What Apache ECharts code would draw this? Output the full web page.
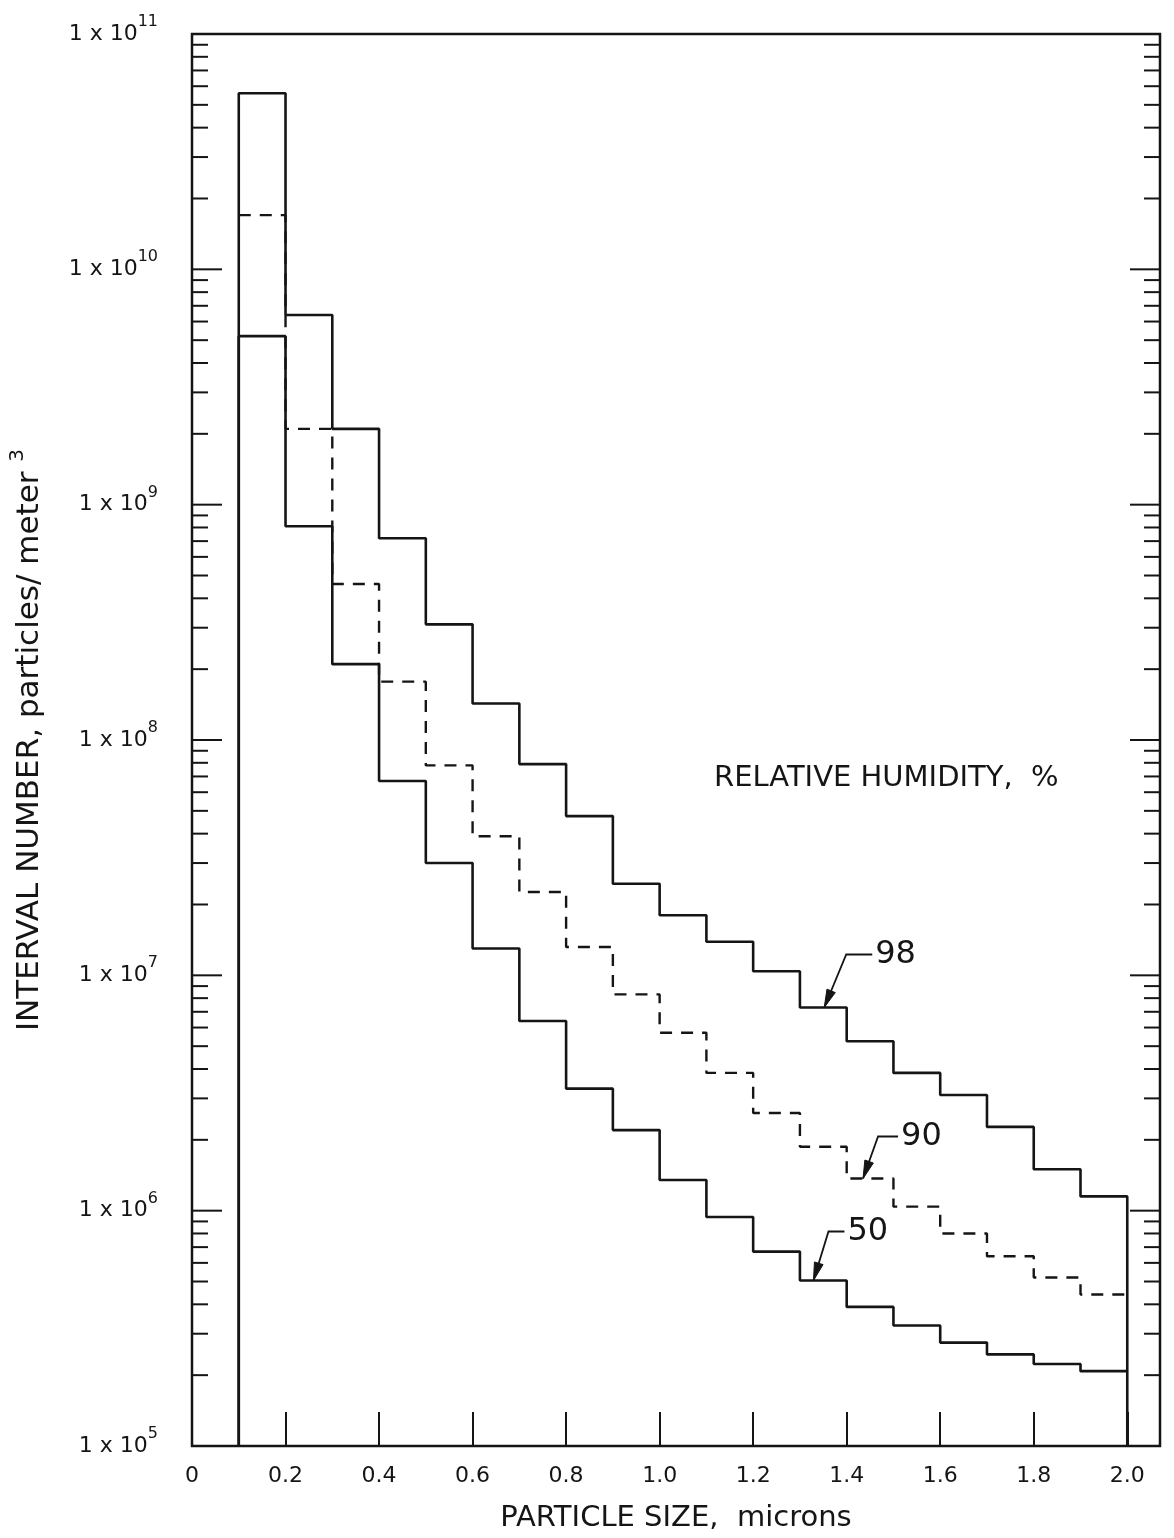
<!DOCTYPE html>
<html>
<head>
<meta charset="utf-8">
<title>Interval number vs particle size</title>
<script src="https://cdn.jsdelivr.net/npm/echarts@6.0.0/dist/echarts.min.js"></script>
<style>
  html, body { margin: 0; padding: 0; background: #fff; }
  #chart { width: 1174px; height: 1538px; }
</style>
</head>
<body>
<div id="chart"></div>
<script>
// bin edges in microns, every bin is 0.1 wide
var binEdges = [0.1, 0.2, 0.3, 0.4, 0.5, 0.6, 0.7, 0.8, 0.9, 1.0,
                1.1, 1.2, 1.3, 1.4, 1.5, 1.6, 1.7, 1.8, 1.9, 2.0];

// interval number, particles/m3, one value per bin
var rh98 = [5.6e10, 6.4e9, 2.1e9, 7.2e8, 3.1e8, 1.43e8, 7.9e7, 4.75e7, 2.45e7, 1.8e7,
            1.39e7, 1.04e7, 7.3e6, 5.25e6, 3.85e6, 3.1e6, 2.27e6, 1.5e6, 1.15e6];
var rh90 = [1.7e10, 2.1e9, 4.6e8, 1.77e8, 7.8e7, 3.9e7, 2.26e7, 1.32e7, 8.3e6, 5.7e6,
            3.85e6, 2.6e6, 1.87e6, 1.37e6, 1.04e6, 8.0e5, 6.4e5, 5.2e5, 4.4e5];
var rh50 = [5.2e9, 8.1e8, 2.1e8, 6.7e7, 3.0e7, 1.3e7, 6.4e6, 3.3e6, 2.2e6, 1.35e6,
            9.4e5, 6.7e5, 5.05e5, 3.9e5, 3.25e5, 2.75e5, 2.45e5, 2.23e5, 2.08e5];

var Y_MIN = 1e5, Y_MAX = 1e11;
var X_MIN = 0, X_MAX = 2.07;
var xTickStep = 0.2;

// log tick marks: 1..9 x 10^e, decades are long
var yTickMarks = [];
for (var e = 5; e < 11; e++) {
  for (var m = 1; m < 10; m++) {
    yTickMarks.push([0, m * Math.pow(10, e), m === 1 ? 1 : 0]);
  }
}
yTickMarks.push([0, Y_MAX, 1]);

var INK = '#151515';
var FONT = 'DejaVu Sans';

// histogram outline: a point at the left edge of each bin, plus the closing edge
function stepPoints(vals, dropLeft, dropRight) {
  var pts = [];
  if (dropLeft) pts.push([binEdges[0], Y_MIN]);
  for (var i = 0; i < vals.length; i++) pts.push([binEdges[i], vals[i]]);
  var last = binEdges[binEdges.length - 1];
  pts.push([last, vals[vals.length - 1]]);
  if (dropRight) pts.push([last, Y_MIN]);
  return pts;
}

var chart = echarts.init(document.getElementById('chart'));

var option = {
  animation: false,
  backgroundColor: '#fff',
  grid: {
    left: 186, right: 14, top: 34, bottom: 88,
    show: true, borderColor: INK, borderWidth: 2.5
  },
  xAxis: {
    type: 'value',
    min: X_MIN, max: X_MAX, interval: xTickStep,
    name: 'PARTICLE SIZE,  microns',
    nameLocation: 'middle', nameGap: 58,
    nameTextStyle: { fontFamily: FONT, fontSize: 29, color: INK },
    axisLine: { show: false },
    axisTick: { show: true, inside: true, length: 34, lineStyle: { color: INK, width: 2 } },
    axisLabel: {
      margin: 19, fontFamily: FONT, fontSize: 22, color: INK,
      showMaxLabel: false,
      formatter: function (v) { return v === 0 ? '0' : v.toFixed(1); }
    },
    splitLine: { show: false }
  },
  yAxis: {
    type: 'log', logBase: 10,
    min: Y_MIN, max: Y_MAX, splitNumber: 6,
    name: '{n|INTERVAL NUMBER, particles/ meter }{s|3}',
    nameLocation: 'middle', nameGap: 140,
    nameTextStyle: {
      rich: {
        n: { fontFamily: FONT, fontSize: 31, color: INK, lineHeight: 44, verticalAlign: 'middle' },
        s: { fontFamily: FONT, fontSize: 20, color: INK, lineHeight: 20, verticalAlign: 'top' }
      }
    },
    axisLine: { show: false },
    axisTick: { show: false },
    axisLabel: {
      margin: 34,
      formatter: function (v) {
        return '{b|1 x 10}{s|' + Math.round(Math.log10(v)) + '}';
      },
      rich: {
        b: { fontFamily: FONT, fontSize: 22, color: INK, lineHeight: 40, verticalAlign: 'middle' },
        s: { fontFamily: FONT, fontSize: 16, color: INK, lineHeight: 16, verticalAlign: 'top' }
      }
    },
    splitLine: { show: false }
  },
  series: [
    {
      name: 'ticks',
      type: 'custom',
      silent: true,
      clip: false,
      data: yTickMarks,
      renderItem: function (params, api) {
        var v = api.value(1);
        var len = api.value(2) ? 30 : 16;
        var l = api.coord([X_MIN, v]);
        var r = api.coord([X_MAX, v]);
        var st = { stroke: INK, lineWidth: 2 };
        return {
          type: 'group',
          children: [
            { type: 'line', shape: { x1: l[0], y1: l[1], x2: l[0] + len, y2: l[1] }, style: st },
            { type: 'line', shape: { x1: r[0] - len, y1: r[1], x2: r[0], y2: r[1] }, style: st }
          ]
        };
      }
    },
    {
      name: '50', type: 'line', step: 'end', showSymbol: false,
      data: stepPoints(rh50, true, false),
      lineStyle: { color: INK, width: 2.6 }
    },
    {
      name: '90', type: 'line', step: 'end', showSymbol: false,
      data: stepPoints(rh90, false, false),
      lineStyle: { color: INK, width: 2.4, type: [12, 9] }
    },
    {
      name: '98', type: 'line', step: 'end', showSymbol: false,
      data: stepPoints(rh98, true, true),
      lineStyle: { color: INK, width: 2.6 }
    }
  ]
};

chart.setOption(option);

// curve labels with leader arrows, anchored on the curves
var notes = [
  { text: '98', x: 1.352, v: rh98[12], elbow: [22, -53], end: [48, -53] },
  { text: '90', x: 1.435, v: rh90[13], elbow: [15, -42], end: [35, -42] },
  { text: '50', x: 1.329, v: rh50[12], elbow: [15, -49], end: [31, -49] }
];

var gfx = [];
notes.forEach(function (n) {
  var tip = chart.convertToPixel({ gridIndex: 0 }, [n.x, n.v]);
  var el = [tip[0] + n.elbow[0], tip[1] + n.elbow[1]];
  var en = [tip[0] + n.end[0], tip[1] + n.end[1]];
  var dx = tip[0] - el[0], dy = tip[1] - el[1];
  var d = Math.sqrt(dx * dx + dy * dy);
  dx /= d; dy /= d;
  var bx = tip[0] - dx * 18, by = tip[1] - dy * 18;
  gfx.push({
    type: 'polyline',
    shape: { points: [tip, el, en] },
    style: { stroke: INK, lineWidth: 1.8, fill: null }
  });
  gfx.push({
    type: 'polygon',
    shape: { points: [tip, [bx - dy * 4.5, by + dx * 4.5], [bx + dy * 4.5, by - dx * 4.5]] },
    style: { fill: INK, stroke: INK, lineWidth: 1 }
  });
  gfx.push({
    type: 'text',
    style: {
      text: n.text, x: en[0] + 3, y: en[1],
      fontFamily: FONT, fontSize: 32, fill: INK,
      verticalAlign: 'middle'
    }
  });
});

gfx.push({
  type: 'text',
  style: {
    text: 'RELATIVE HUMIDITY,  %', x: 714, y: 778,
    fontFamily: FONT, fontSize: 29, fill: INK, verticalAlign: 'middle'
  }
});

chart.setOption({ graphic: gfx });
</script>
</body>
</html>
